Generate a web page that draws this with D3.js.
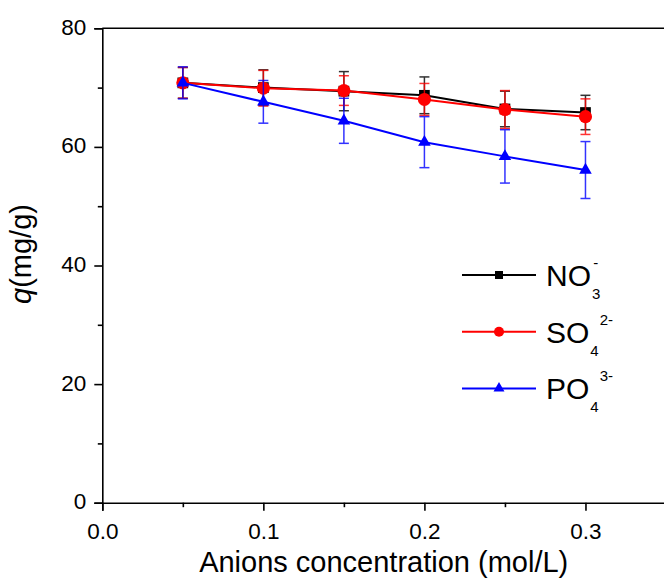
<!DOCTYPE html>
<html>
<head>
<meta charset="utf-8">
<script src="https://cdn.jsdelivr.net/npm/d3@7"></script>
<style>
  body { margin: 0; background: #fff; }
  svg { display: block; }
  svg text { font-family: "Liberation Sans", Arial, sans-serif; }
</style>
</head>
<body>
<div id="chart"></div>
<script>

// data
var conc = [0.05, 0.1, 0.15, 0.2, 0.25, 0.3];
var no3 = [70.8, 70.0, 69.4, 68.7, 66.4, 65.8];
var no3Err = [2.6, 3.0, 3.3, 3.1, 3.0, 2.9];
var so4 = [70.8, 69.9, 69.5, 68.0, 66.3, 65.1];
var so4Err = [2.6, 3.0, 2.5, 2.7, 3.2, 3.0];
var po4 = [70.8, 67.6, 64.4, 60.8, 58.4, 56.1];
var po4Err = [2.7, 3.6, 3.8, 4.3, 4.5, 4.8];

var xTicks = [0, 0.1, 0.2, 0.3];
var xMinor = [0.05, 0.15, 0.25];
var yTicks = [0, 20, 40, 60, 80];
var yMinor = [10, 30, 50, 70];

var width = 664;
var height = 588;

var series = [
    {name: 'NO', sub: '3', sup: '-', supDx: -7, values: no3, err: no3Err, color: '#000000', symbol: d3.symbolSquare, size: 115, legSize: 64},
    {name: 'SO', sub: '4', sup: '2-', supDx: 1, values: so4, err: so4Err, color: '#ff0000', symbol: d3.symbolCircle, size: 135, legSize: 80},
    {name: 'PO', sub: '4', sup: '3-', supDx: 1, values: po4, err: po4Err, color: '#0000ff', symbol: d3.symbolTriangle, size: 68, legSize: 52}
];

// scales (right part of the frame is cut off in the original)
var xScale = d3.scaleLinear().domain([0, 0.35]).range([102.3, 666]);
var yScale = d3.scaleLinear().domain([0, 80]).range([502.7, 28.3]);

var svg = d3.select('#chart').append('svg')
    .attr('width', width)
    .attr('height', height);

// top frame line
svg.append('line')
    .attr('x1', xScale(0)).attr('x2', xScale(0.35))
    .attr('y1', yScale(80)).attr('y2', yScale(80))
    .style('stroke', '#000').style('stroke-width', 1.6);

// x axis
var xAxis = svg.append('g')
    .attr('transform', 'translate(0,' + yScale(0) + ')')
    .call(d3.axisBottom(xScale).tickValues(xTicks).tickSize(8).tickFormat(d3.format('.1f')));
svg.append('g')
    .attr('transform', 'translate(0,' + yScale(0) + ')')
    .call(d3.axisBottom(xScale).tickValues(xMinor).tickSize(4.5).tickFormat(''))
    .select('.domain').remove();
xAxis.selectAll('text')
    .attr('y', 36.6).attr('dy', 0)
    .style('font-size', '22.5px').style('fill', '#000');

// y axis
var yAxis = svg.append('g')
    .attr('transform', 'translate(' + xScale(0) + ',0)')
    .call(d3.axisLeft(yScale).tickValues(yTicks).tickSize(8));
svg.append('g')
    .attr('transform', 'translate(' + xScale(0) + ',0)')
    .call(d3.axisLeft(yScale).tickValues(yMinor).tickSize(4.5).tickFormat(''))
    .select('.domain').remove();
yAxis.selectAll('text')
    .attr('x', -16).attr('dy', '0.27em')
    .style('font-size', '22.5px').style('fill', '#000');

svg.selectAll('.domain').style('stroke', '#000').style('stroke-width', 1.6);
svg.selectAll('.tick line').style('stroke', '#000').style('stroke-width', 1.6);

// axis titles
svg.append('text')
    .attr('x', 383.7).attr('y', 571.5)
    .attr('text-anchor', 'middle')
    .style('font-size', '29px')
    .text('Anions concentration (mol/L)');

var yTitle = svg.append('text')
    .attr('transform', 'translate(31,254) rotate(-90)')
    .attr('text-anchor', 'middle')
    .style('font-size', '29px');
yTitle.append('tspan').style('font-style', 'italic').text('q');
yTitle.append('tspan').text('(mg/g)');

var line = d3.line()
    .x(function(d) { return xScale(d.x); })
    .y(function(d) { return yScale(d.y); });

// draw each series: error bars, line, markers
series.forEach(function(s) {
    var pts = conc.map(function(c, i) { return {x: c, y: s.values[i], e: s.err[i]}; });
    var g = svg.append('g');

    var eb = g.selectAll('.err')
        .data(pts)
        .enter().append('g')
        .style('stroke', s.color)
        .style('stroke-width', 1.5)
        .style('opacity', 0.8);
    eb.append('line')
        .attr('x1', function(d) { return xScale(d.x); })
        .attr('x2', function(d) { return xScale(d.x); })
        .attr('y1', function(d) { return yScale(d.y + d.e); })
        .attr('y2', function(d) { return yScale(d.y - d.e); });
    eb.append('line')
        .attr('x1', function(d) { return xScale(d.x) - 5; })
        .attr('x2', function(d) { return xScale(d.x) + 5; })
        .attr('y1', function(d) { return yScale(d.y + d.e); })
        .attr('y2', function(d) { return yScale(d.y + d.e); });
    eb.append('line')
        .attr('x1', function(d) { return xScale(d.x) - 5; })
        .attr('x2', function(d) { return xScale(d.x) + 5; })
        .attr('y1', function(d) { return yScale(d.y - d.e); })
        .attr('y2', function(d) { return yScale(d.y - d.e); });

    g.append('path')
        .datum(pts)
        .attr('d', line)
        .style('fill', 'none')
        .style('stroke', s.color)
        .style('stroke-width', 2);

    g.selectAll('.dot')
        .data(pts)
        .enter().append('path')
        .attr('d', d3.symbol().type(s.symbol).size(s.size))
        .attr('transform', function(d) { return 'translate(' + xScale(d.x) + ',' + yScale(d.y) + ')'; })
        .style('fill', s.color);
});

// legend
var legend = svg.selectAll('.legend')
    .data(series)
    .enter().append('g')
    .attr('class', 'legend')
    .attr('transform', function(d, i) { return 'translate(0,' + (275 + i * 56.7) + ')'; });

legend.append('line')
    .attr('x1', 462).attr('x2', 536)
    .style('stroke', function(d) { return d.color; })
    .style('stroke-width', 2);

legend.append('path')
    .attr('d', function(d) { return d3.symbol().type(d.symbol).size(d.legSize)(); })
    .attr('transform', 'translate(499,0)')
    .style('fill', function(d) { return d.color; });

var lt = legend.append('text')
    .attr('x', 546).attr('y', 11)
    .style('font-size', '30px');
lt.append('tspan').text(function(d) { return d.name; });
lt.append('tspan')
    .attr('dy', 13).attr('dx', 1)
    .style('font-size', '15px')
    .text(function(d) { return d.sub; });
lt.append('tspan')
    .attr('dy', -31)
    .attr('dx', function(d) { return d.supDx; })
    .style('font-size', '15px')
    .text(function(d) { return d.sup; });

</script>
</body>
</html>
